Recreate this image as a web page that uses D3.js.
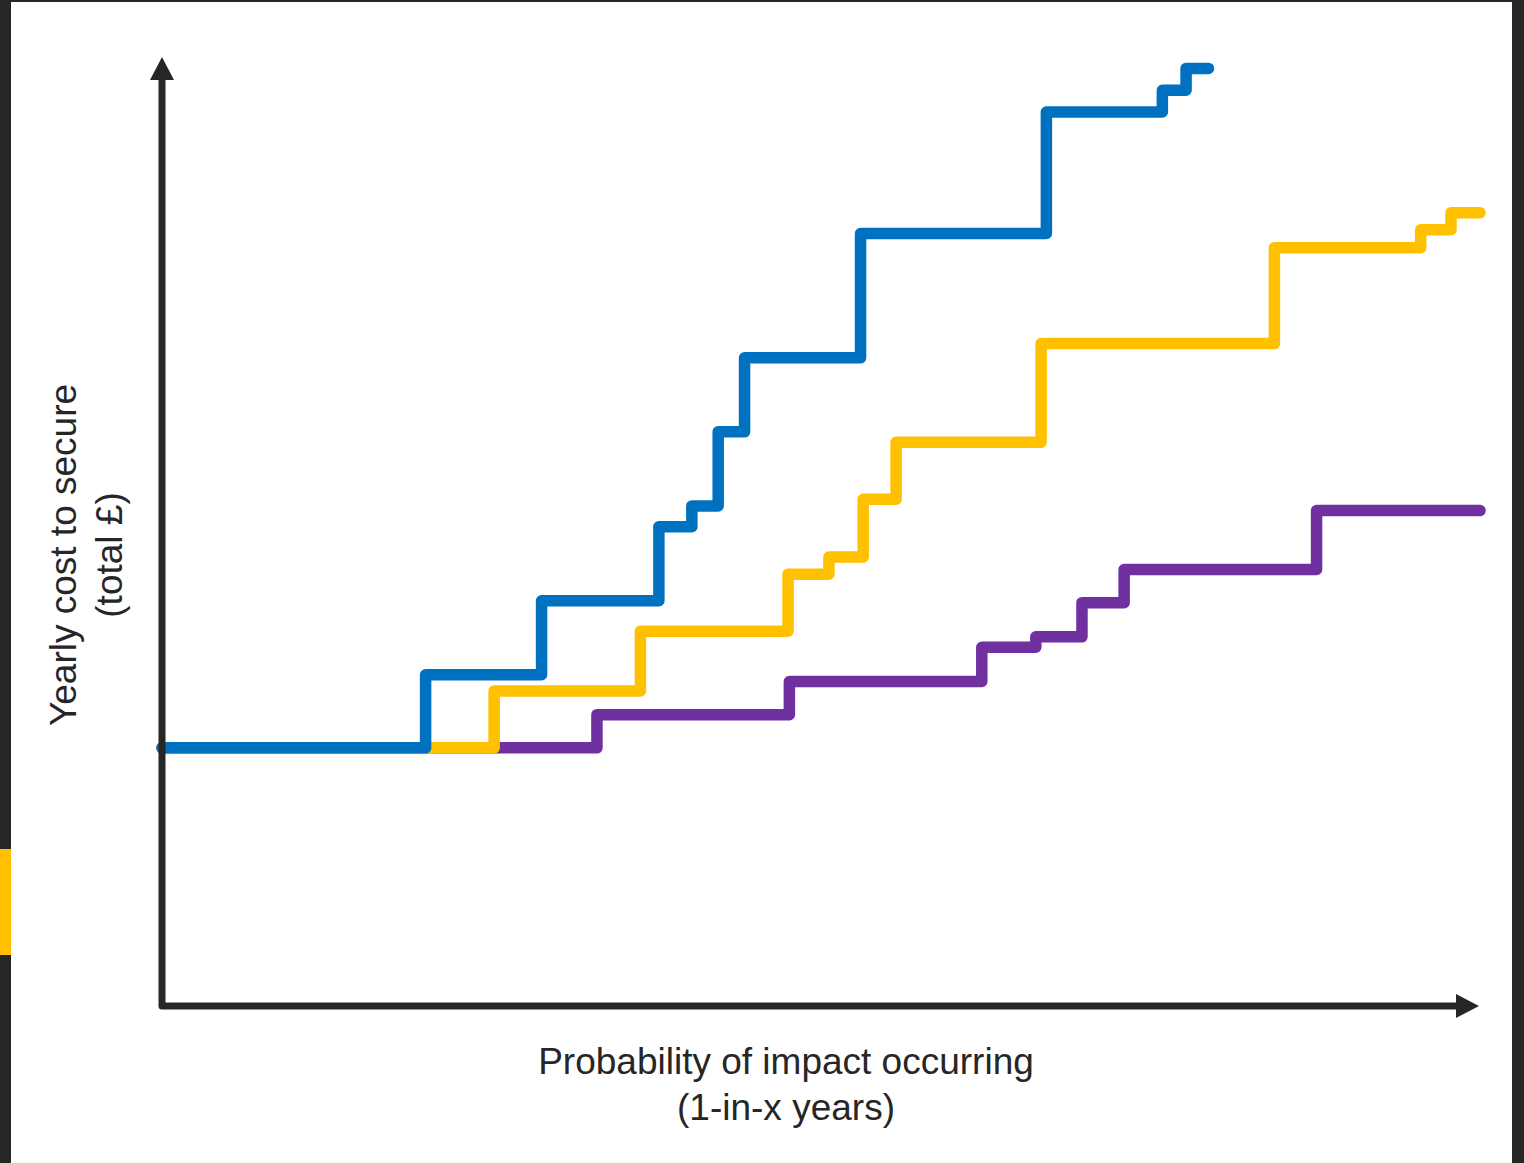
<!DOCTYPE html>
<html>
<head>
<meta charset="utf-8">
<script src="https://cdn.jsdelivr.net/npm/d3@7"></script>
<style>
	html, body { margin: 0; padding: 0; background: #fff; overflow: hidden; }
	text { font-family: "Liberation Sans", Arial, sans-serif; fill: #262626; }
</style>
</head>
<body>
<script>
// step points: [probability, cost] in arbitrary 0-100 units
var bluePoints = [[0, 27.2], [20.0, 34.9], [28.8, 42.7], [37.7, 50.5], [40.2, 52.7], [42.2, 60.5],
	[44.2, 68.3], [53.0, 81.4], [67.1, 94.2], [75.9, 96.5], [77.7, 98.8], [79.4, 98.8]];
var yellowPoints = [[0, 27.2], [25.2, 33.2], [36.3, 39.5], [47.5, 45.5], [50.6, 47.3], [53.2, 53.4],
	[55.7, 59.4], [66.7, 69.8], [84.4, 79.9], [95.5, 81.8], [97.8, 83.6], [100, 83.6]];
var purplePoints = [[0, 27.2], [33.0, 30.7], [47.6, 34.2], [62.2, 37.8], [66.3, 38.9], [69.8, 42.5],
	[73.0, 46.0], [87.6, 52.2], [100, 52.2]];

var seriesNames = ['purple', 'yellow', 'blue'];
var seriesColors = ['#7030A0', '#FFC000', '#0070C0'];

var xTitle = ['Probability of impact occurring', '(1-in-x years)'];
var yTitle = ['Yearly cost to secure', '(total £)'];

var width = 1524, height = 1163;

var svg = d3.select('body')
		.append('svg')
		.attr('width', width)
		.attr('height', height);

// dark frame round the slide
svg.append('rect').attr('x', 0).attr('y', 0).attr('width', width).attr('height', 2).attr('fill', '#262626');
svg.append('rect').attr('x', 0).attr('y', 0).attr('width', 11).attr('height', height).attr('fill', '#262626');
svg.append('rect').attr('x', 1512).attr('y', 0).attr('width', 12).attr('height', height).attr('fill', '#262626');
svg.append('rect').attr('x', 0).attr('y', 849).attr('width', 11).attr('height', 106).attr('fill', '#FFC000');

var x = d3.scaleLinear()
	.domain([0, 100])
	.range([162, 1480]);

var y = d3.scaleLinear()
	.domain([0, 100])
	.range([1006, 57]);

var step = d3.line()
	.x(function(d) { return x(d[0]); })
	.y(function(d) { return y(d[1]); })
	.curve(d3.curveStepAfter);

var allSeries = [purplePoints, yellowPoints, bluePoints];

svg.selectAll('path.series')
	.data(allSeries)
	.enter().append('path')
	.attr('class', function(d, i) { return 'series ' + seriesNames[i]; })
	.attr('d', step)
	.attr('fill', 'none')
	.attr('stroke', function(d, i) { return seriesColors[i]; })
	.attr('stroke-width', 11.5)
	.attr('stroke-linecap', 'round')
	.attr('stroke-linejoin', 'round');

// axes with arrow heads
var x0 = x(0), y0 = y(0), xEnd = x.range()[1] - 1, yEnd = y.range()[1];
var head = 23, half = 12;

svg.append('path')
	.attr('d', 'M' + x0 + ',' + (yEnd + head) + 'L' + x0 + ',' + y0 + 'L' + (xEnd - head) + ',' + y0)
	.attr('fill', 'none')
	.attr('stroke', '#262626')
	.attr('stroke-width', 7)
	.attr('stroke-linejoin', 'round');

svg.append('path')
	.attr('d', 'M' + x0 + ',' + yEnd + 'L' + (x0 + half) + ',' + (yEnd + head) + 'L' + (x0 - half) + ',' + (yEnd + head) + 'Z')
	.attr('fill', '#262626');

svg.append('path')
	.attr('d', 'M' + xEnd + ',' + y0 + 'L' + (xEnd - head) + ',' + (y0 - half) + 'L' + (xEnd - head) + ',' + (y0 + half) + 'Z')
	.attr('fill', '#262626');

// titles
svg.append('text')
	.attr('x', 786)
	.attr('y', 1074)
	.attr('text-anchor', 'middle')
	.attr('font-size', 37)
	.selectAll('tspan')
	.data(xTitle)
	.enter().append('tspan')
	.attr('x', 786)
	.attr('dy', function(d, i) { return i ? 46 : 0; })
	.text(function(d) { return d; });

svg.append('text')
	.attr('transform', 'translate(76,555) rotate(-90)')
	.attr('text-anchor', 'middle')
	.attr('font-size', 37)
	.selectAll('tspan')
	.data(yTitle)
	.enter().append('tspan')
	.attr('x', 0)
	.attr('dy', function(d, i) { return i ? 46 : 0; })
	.text(function(d) { return d; });
</script>
</body>
</html>
